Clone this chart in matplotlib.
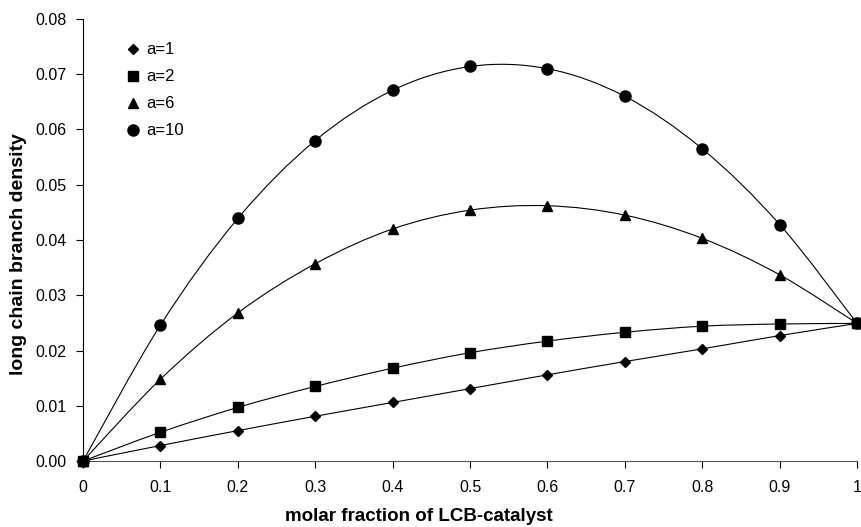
import matplotlib
matplotlib.use('Agg')
import matplotlib.pyplot as plt
import numpy as np
from matplotlib.path import Path
from matplotlib.patches import PathPatch
from matplotlib.ticker import FormatStrFormatter, FuncFormatter

plt.rcParams['font.family'] = ['Liberation Sans', 'DejaVu Sans']

# molar fraction of the LCB catalyst
x = [0.0, 0.1, 0.2, 0.3, 0.4, 0.5, 0.6, 0.7, 0.8, 0.9, 1.0]

# long chain branch density for each a
lcb_a1 = [0.0, 0.0028, 0.0055, 0.0081, 0.0106, 0.0131, 0.0156, 0.0180, 0.0203, 0.0227, 0.0249]
lcb_a2 = [0.0, 0.0052, 0.0097, 0.0135, 0.0168, 0.0196, 0.0217, 0.0233, 0.0244, 0.0248, 0.0249]
lcb_a6 = [0.0, 0.0148, 0.0268, 0.0357, 0.0420, 0.0454, 0.0462, 0.0445, 0.0403, 0.0337, 0.0249]
lcb_a10 = [0.0, 0.0246, 0.0439, 0.0580, 0.0671, 0.0714, 0.0710, 0.0660, 0.0565, 0.0428, 0.0249]

labels = ['a=1', 'a=2', 'a=6', 'a=10']
markers = ['D', 's', '^', 'o']
msizes = [5, 7, 7, 8]


def smooth_path(xs, ys):
    """Bezier curve through the points, like a spreadsheet 'smoothed line'."""
    pts = np.column_stack([xs, ys])
    n = len(pts)
    verts = [pts[0]]
    codes = [Path.MOVETO]
    for i in range(n - 1):
        p0 = pts[i - 1] if i > 0 else pts[i]
        p1 = pts[i]
        p2 = pts[i + 1]
        p3 = pts[i + 2] if i + 2 < n else pts[i + 1]
        c1 = p1 + (p2 - p0) / 6.0
        c2 = p2 - (p3 - p1) / 6.0
        verts += [c1, c2, p2]
        codes += [Path.CURVE4] * 3
    return Path(verts, codes)


fig = plt.figure(figsize=(8.62, 5.27), dpi=100)
ax = fig.add_axes([0.0963, 0.1252, 0.898, 0.8388])

for ys, lab, mk, ms in zip([lcb_a1, lcb_a2, lcb_a6, lcb_a10], labels, markers, msizes):
    ax.add_patch(PathPatch(smooth_path(x, ys), facecolor='none',
                           edgecolor='black', lw=0.8, zorder=2))
    ax.plot(x, ys, linestyle='none', marker=mk, markersize=ms,
            color='black', label=lab, zorder=3, clip_on=False)

ax.set_xlim(0, 1)
ax.set_ylim(0, 0.08)
ax.set_xticks(np.arange(0, 1.01, 0.1))
ax.set_yticks(np.arange(0, 0.081, 0.01))
ax.xaxis.set_major_formatter(FuncFormatter(lambda v, p: '%g' % round(v, 1)))
ax.yaxis.set_major_formatter(FormatStrFormatter('%.2f'))
ax.tick_params(direction='out', length=5, width=0.8, labelsize=11.5)
ax.tick_params(axis='x', pad=9)
ax.tick_params(axis='y', pad=7)

for side in ['top', 'right']:
    ax.spines[side].set_visible(False)
ax.spines['left'].set_linewidth(0.8)
ax.spines['bottom'].set_linewidth(0.8)
ax.spines['bottom'].set_color('#555555')

ax.set_xlabel('molar fraction of LCB-catalyst', fontsize=13.5, fontweight='bold')
ax.xaxis.set_label_coords(0.434, -0.106)
ax.set_ylabel('long chain branch density', fontsize=14, fontweight='bold')
ax.yaxis.set_label_coords(-0.072, 0.468)

ax.legend(loc='upper left', bbox_to_anchor=(0.047, 0.962), frameon=False,
          fontsize=12, handlelength=0.8, handletextpad=0.4, labelspacing=0.72,
          borderaxespad=0)

fig.savefig('out.png', dpi=100)
